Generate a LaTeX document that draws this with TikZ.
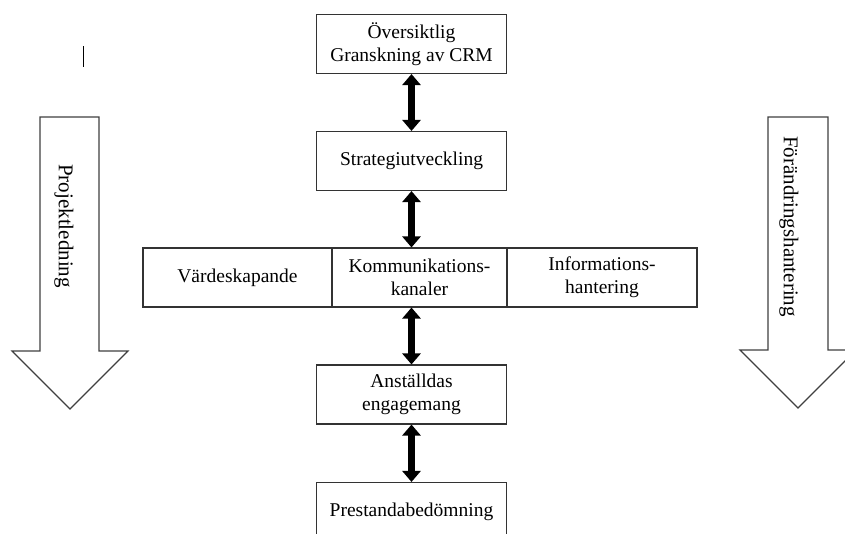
\documentclass[tikz,border=0pt]{standalone}
\usepackage{fontspec}
\setmainfont{Liberation Serif}
\usetikzlibrary{arrows.meta}
\begin{document}
\begin{tikzpicture}[x=1pt,y=-1pt,
  box/.style={draw=black!80, line width=1.1pt, fill=white, inner sep=0pt, align=center, font=\fontsize{19.5}{23}\selectfont},
  dbl/.style={line width=7pt, {Triangle[length=11pt,width=18pt]}-{Triangle[length=11pt,width=18pt]}},
  bigarrow/.style={draw=black!75, line width=1.1pt, fill=white, line join=miter},
  vtext/.style={rotate=-90, inner sep=0pt, font=\fontsize{21}{24}\selectfont}]
\clip (0,0) rectangle (845,533);
\fill[white] (0,0) rectangle (845,533);
% big arrows
\draw[bigarrow] (40,117) -- (99,117) -- (99,351) -- (128,351) -- (70,409) -- (12,351) -- (40,351) -- cycle;
\draw[bigarrow] (768,117) -- (828,117) -- (828,350) -- (856,350) -- (798,408) -- (740,350) -- (768,350) -- cycle;
\node[vtext] (pl) at (64,226) {Projektledning};
\node[vtext] (fh) at (789,226.5) {Förändringshantering};
% cursor mark
\draw[line width=0.8pt] (83,46) -- (83,67);
% boxes
\node[box, minimum width=190pt, minimum height=59pt] (top) at (411.5,44) {Översiktlig\\Granskning av CRM};
\node[box, minimum width=190pt, minimum height=59pt] (strat) at (411.5,161) {Strategiutveckling};
\node[box, minimum width=189pt, minimum height=59pt] (vard) at (237.5,277.5) {Värdeskapande};
\node[box, minimum width=175pt, minimum height=59pt] (komm) at (419.5,277.5) {Kommunikations-\\kanaler};
\node[box, minimum width=190pt, minimum height=59pt] (info) at (602,277.5) {Informations-\\hantering};
\node[box, minimum width=190pt, minimum height=59pt] (anst) at (411.5,394.5) {Anställdas\\engagemang};
\node[box, minimum width=190pt, minimum height=59pt] (prest) at (411.5,512) {Prestandabedömning};
% connectors
\draw[dbl] (top.south) -- (strat.north);
\draw[dbl] (strat.south) -- (strat.south |- komm.north);
\draw[dbl] (anst.north |- komm.south) -- (anst.north);
\draw[dbl] (anst.south) -- (prest.north);
\end{tikzpicture}
\end{document}
